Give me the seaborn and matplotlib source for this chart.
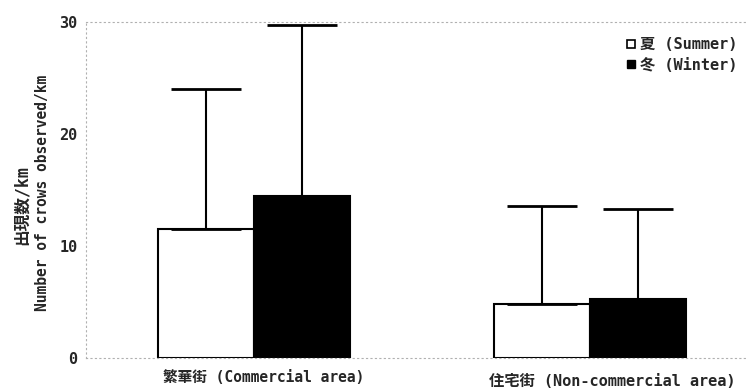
import numpy as np
import pandas as pd
import matplotlib
matplotlib.use("Agg")
import matplotlib.pyplot as plt
import matplotlib.transforms as mtransforms
import seaborn as sns
from matplotlib.lines import Line2D

# data
areas = ["繁華街 (Commercial area)", "住宅街 (Non-commercial area)"]
seasons = ["夏 (Summer)", "冬 (Winter)"]
summer_mean = [11.5, 4.8]
winter_mean = [14.5, 5.3]
summer_upper = [24.0, 13.6]
winter_upper = [29.7, 13.3]

df = pd.DataFrame({
    "area": areas * 2,
    "season": [seasons[0]] * 2 + [seasons[1]] * 2,
    "value": summer_mean + winter_mean,
    "upper": summer_upper + winter_upper,
})

sns.set_style("white")
fonts = ["DejaVu Sans Mono", "Noto Sans CJK JP", "DejaVu Sans"]
plt.rcParams["font.family"] = fonts
plt.rcParams["font.weight"] = "bold"

fig = plt.figure(figsize=(7.56, 3.91), dpi=100)
ax = fig.add_axes([86 / 756, 1 - 358 / 391, (748 - 86) / 756, (358 - 22) / 391])

sns.barplot(data=df, x="area", y="value", hue="season", hue_order=seasons,
            order=areas, palette=["white", "black"], edgecolor="black",
            linewidth=1.5, width=0.57, errorbar=None, legend=False, ax=ax)

# upper-only error bars, placed at the bar centres
for i, s in enumerate(seasons):
    cont = ax.containers[i]
    sub = df[df["season"] == s].set_index("area").loc[areas]
    xs = [p.get_x() + p.get_width() / 2 for p in cont.patches]
    err = (sub["upper"] - sub["value"]).values
    ax.errorbar(xs, sub["value"].values, yerr=[np.zeros(len(err)), err],
                fmt="none", ecolor="black", elinewidth=1.5, capsize=25,
                capthick=2, zorder=1)

ax.set_ylim(0, 30)
ax.set_xlim(-0.5, 1.47)
ax.set_yticks([0, 10, 20, 30])
ax.tick_params(axis="y", length=0, labelsize=11, pad=6)
ax.tick_params(axis="x", length=0, labelsize=10.5, pad=9)
for lab in ax.get_yticklabels() + ax.get_xticklabels():
    lab.set_fontweight("bold")

# x labels sit a little right of the group centres in the original
xlabs = ax.get_xticklabels()
xlabs[1].set_fontsize(11)
for lab, (dx, dy) in zip(xlabs, [(10, 0), (22, -3)]):
    off = mtransforms.ScaledTranslation(dx / 100, dy / 100, fig.dpi_scale_trans)
    lab.set_transform(lab.get_transform() + off)
ax.set_xlabel("")
ax.set_ylabel("")

# two-line y label
fig.text(22 / 756, 1 - 205 / 391, "出現数/km", rotation=90, ha="center",
         va="center", fontsize=12, fontweight="bold")
fig.text(43 / 756, 1 - 193 / 391, "Number of crows observed/km", rotation=90,
         ha="center", va="center", fontsize=10.5, fontweight="bold")

for side in ["left", "bottom", "top"]:
    ax.spines[side].set_color("#b0b0b0")
    ax.spines[side].set_linestyle((0, (1, 3)))
    ax.spines[side].set_linewidth(0.8)
ax.spines["right"].set_visible(False)

handles = [
    Line2D([], [], marker="s", linestyle="none", markerfacecolor="white",
           markeredgecolor="black", markeredgewidth=1.2, markersize=6),
    Line2D([], [], marker="s", linestyle="none", markerfacecolor="black",
           markeredgecolor="black", markersize=6),
]
ax.legend(handles, seasons, loc="upper right", frameon=False,
          bbox_to_anchor=(1.005, 0.995), handletextpad=0.0, labelspacing=0.35,
          handlelength=1.2, prop={"family": fonts, "weight": "bold", "size": 11})

plt.savefig("out.png", dpi=100)
